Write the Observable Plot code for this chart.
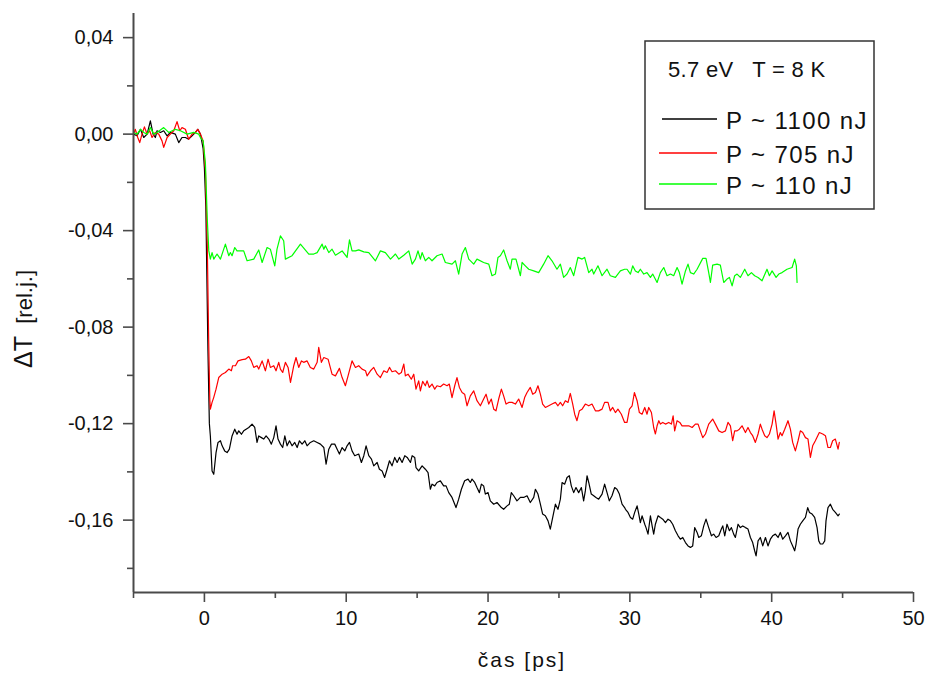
<!DOCTYPE html>
<html><head><meta charset="utf-8">
<script src="https://cdn.jsdelivr.net/npm/d3@7"></script>
<script src="https://cdn.jsdelivr.net/npm/@observablehq/plot@0.6"></script>
<style>body{margin:0;background:#fff;} svg{display:block}</style>
</head><body><div id="chart"></div>
<script>
const xMajor = [0, 10, 20, 30, 40, 50];
const xMinor = [-5, 5, 15, 25, 35, 45];
const yMajor = [-0.16, -0.12, -0.08, -0.04, 0, 0.04];
const yMinor = [-0.18, -0.14, -0.10, -0.06, -0.02, 0.02];
const seriesNames = ["P ~ 1100 nJ", "P ~ 705 nJ", "P ~ 110 nJ"];
const seriesColors = ["#000000", "#ff0000", "#00ff00"];
const legendTitle = "5.7 eV   T = 8 K";
const xLabel = "čas [ps]";
const yLabelMain = "ΔT";
const yLabelUnit = "  [rel.j.]";

// [time ps, ΔT]
const black = [
[-5,0],[-4.75,-0.0007],[-4.51,0.002],[-4.28,-0.0014],[-4.04,0],[-3.81,0.0055],[-3.62,0],[-3.46,-0.0014],[-3.34,0.0014],[-3.1,0.0007],[-2.87,0.0014],[-2.63,-0.0007],[-2.4,0.0007],[-2.05,0],[-1.81,-0.0035],[-1.58,-0.0014],[-1.34,-0.0014],[-1.11,-0.0021],[-0.87,-0.0007],[-0.63,0.0007],[-0.47,0.002],[-0.28,0],[-0.09,-0.006],[0,-0.014],[0.1,-0.03],[0.25,-0.09],[0.35,-0.12],
[0.42,-0.1251],[0.54,-0.1396],[0.66,-0.141],[0.82,-0.132],[0.96,-0.1278],[1.13,-0.1271],[1.25,-0.1292],[1.43,-0.1313],[1.6,-0.132],[1.76,-0.1306],[1.95,-0.1251],[2.14,-0.1223],[2.3,-0.1244],[2.42,-0.123],[2.61,-0.1244],[2.77,-0.123],[2.94,-0.1223],[3.13,-0.1216],[3.36,-0.1202],[3.55,-0.1216],[3.71,-0.1278],[3.83,-0.1251],[4.02,-0.1258],[4.18,-0.1264],[4.35,-0.1251],[4.54,-0.1264],[4.72,-0.1285],[4.89,-0.1258],[5.05,-0.1209],[5.19,-0.1264],[5.36,-0.1285],[5.52,-0.1299],[5.67,-0.1251],[5.83,-0.1292],[6,-0.1271],[6.18,-0.1292],[6.37,-0.1278],[6.54,-0.1299],[6.7,-0.1271],[6.89,-0.1285],[7.08,-0.1271],[7.24,-0.1292],[7.47,-0.1278],[7.71,-0.1271],[7.95,-0.1278],[8.18,-0.1285],[8.42,-0.1299],[8.58,-0.1368],[8.77,-0.1306],[8.96,-0.1285],[9.19,-0.1285],[9.36,-0.1306],[9.52,-0.1326],[9.71,-0.1299],[9.9,-0.1313],[10.06,-0.1292],[10.23,-0.1278],[10.41,-0.1313],[10.6,-0.1333],[10.88,-0.1326],[11.07,-0.1361],[11.24,-0.1333],[11.4,-0.1292],[11.59,-0.1333],[11.78,-0.1347],[11.94,-0.1375],[12.18,-0.1361],[12.34,-0.1389],[12.53,-0.1396],[12.71,-0.1423],[12.88,-0.1389],[13.05,-0.1354],[13.23,-0.1375],[13.42,-0.134],[13.59,-0.1361],[13.75,-0.134],[13.94,-0.1361],[14.13,-0.1333],[14.3,-0.134],[14.53,-0.1361],[14.65,-0.1333],[14.83,-0.134],
[14.92,-0.1382],[15.11,-0.1396],[15.35,-0.1375],[15.58,-0.1389],[15.77,-0.1403],[15.93,-0.1472],[16.05,-0.1451],[16.24,-0.1458],[16.4,-0.1444],[16.64,-0.1437],[16.87,-0.1458],[17.04,-0.1458],[17.23,-0.1486],[17.46,-0.1506],[17.65,-0.1534],[17.74,-0.1548],[17.93,-0.1513],[18.12,-0.1472],[18.35,-0.1437],[18.59,-0.143],[18.75,-0.1444],[18.87,-0.143],[19.06,-0.1444],[19.22,-0.1465],[19.39,-0.1486],[19.53,-0.1451],[19.69,-0.1458],[19.81,-0.1492],[20,-0.1486],[20.16,-0.152],[20.4,-0.1534],[20.63,-0.1527],[20.94,-0.1548],[21.1,-0.1555],[21.34,-0.1541],[21.5,-0.1534],[21.64,-0.1486],[21.81,-0.1499],[22.04,-0.152],[22.28,-0.1506],[22.51,-0.1506],[22.75,-0.1499],[22.98,-0.1527],[23.22,-0.1506],[23.34,-0.1472],[23.52,-0.1492],[23.69,-0.1534],[23.85,-0.1575],[24.04,-0.1582],[24.23,-0.1603],[24.39,-0.1637],[24.56,-0.1589],[24.75,-0.1534],[24.93,-0.1555],[25.1,-0.1513],[25.22,-0.1444],[25.4,-0.1451],[25.57,-0.1423],[25.73,-0.1416],[25.87,-0.1458],[26.04,-0.1486],[26.2,-0.1465],[26.39,-0.1486],[26.58,-0.1465],[26.74,-0.152],[26.86,-0.1479],[26.98,-0.1416],[27.1,-0.1444],[27.28,-0.1492],[27.45,-0.1499],[27.61,-0.1506],[27.8,-0.1513],[28.04,-0.1492],[28.22,-0.1451],[28.39,-0.1486],[28.55,-0.152],[28.74,-0.1499],[28.93,-0.1465],[29.09,-0.1472],[29.26,-0.1492],[29.45,-0.1534],[29.63,-0.1548],
[29.69,-0.1555],[29.87,-0.1568],[30.04,-0.1589],[30.2,-0.1596],[30.34,-0.1568],[30.51,-0.1541],[30.63,-0.1575],[30.74,-0.161],[30.86,-0.1582],[31.05,-0.1617],[31.14,-0.1631],[31.28,-0.1658],[31.45,-0.1582],[31.57,-0.1624],[31.68,-0.1658],[31.8,-0.1617],[31.99,-0.1582],[32.15,-0.1589],[32.32,-0.1596],[32.51,-0.161],[32.69,-0.1596],[32.86,-0.1603],[33.02,-0.1617],[33.21,-0.1644],[33.4,-0.1665],[33.56,-0.1679],[33.73,-0.1672],[33.92,-0.1693],[34.1,-0.1707],[34.27,-0.1713],[34.43,-0.1707],[34.57,-0.1631],[34.74,-0.1651],[34.86,-0.1672],[35.04,-0.1665],[35.21,-0.1624],[35.37,-0.1596],[35.56,-0.1631],[35.75,-0.1665],[35.91,-0.1658],[36.08,-0.1672],[36.27,-0.1665],[36.45,-0.1637],[36.55,-0.1624],[36.69,-0.1665],[36.85,-0.1617],[37.02,-0.1644],[37.16,-0.1631],[37.32,-0.1658],[37.44,-0.1672],[37.63,-0.1617],[37.79,-0.1631],[37.96,-0.1624],[38.15,-0.1631],[38.33,-0.1637],[38.5,-0.1672],[38.66,-0.1693],[38.8,-0.1727],[38.9,-0.1748],[39.04,-0.1686],[39.2,-0.1672],[39.37,-0.1707],[39.56,-0.1672],[39.74,-0.1707],[39.91,-0.1679],[40.07,-0.1665],[40.26,-0.1658],[40.45,-0.1672],[40.61,-0.1651],[40.78,-0.1679],[40.97,-0.1665],[41.15,-0.1651],[41.32,-0.1686],[41.48,-0.1707],[41.62,-0.1727],[41.72,-0.1699],[41.86,-0.1637],[42.02,-0.1617],[42.19,-0.1603],[42.38,-0.1589],[42.54,-0.1548],[42.66,-0.1568],[42.85,-0.1575],[43.03,-0.1589],[43.2,-0.1631],[43.32,-0.1686],[43.43,-0.1699],[43.6,-0.1699],[43.74,-0.1686],[43.83,-0.1603],[43.97,-0.1548],[44.14,-0.1534],[44.3,-0.1555],[44.49,-0.1568],[44.68,-0.1582],[44.77,-0.1575]
];

const red = [
[-5,0],[-4.87,0.002],[-4.7,-0.0014],[-4.56,-0.0035],[-4.4,0],[-4.23,0.003],[-4.04,0],[-3.86,0.0014],[-3.69,-0.0014],[-3.46,0.0007],[-3.22,0],[-2.99,-0.0028],[-2.87,-0.0055],[-2.63,-0.0014],[-2.4,0],[-2.16,0.0014],[-1.93,0.0052],[-1.74,0.0014],[-1.58,0.0027],[-1.34,0.002],[-1.11,-0.0021],[-0.87,0],[-0.63,0.0007],[-0.47,0.002],[-0.28,0],[-0.09,-0.0028],[0.07,-0.015],[0.2,-0.045],[0.3,-0.085],[0.38,-0.11],
[0.42,-0.114],[0.54,-0.1112],[0.66,-0.1091],[0.82,-0.1057],[1.01,-0.1009],[1.25,-0.0995],[1.48,-0.0988],[1.72,-0.0974],[1.9,-0.0981],[1.99,-0.096],[2.19,-0.096],[2.37,-0.094],[2.66,-0.0935],[2.89,-0.0933],[3.13,-0.0922],[3.31,-0.094],[3.48,-0.0967],[3.71,-0.096],[3.83,-0.0974],[4.07,-0.094],[4.3,-0.0981],[4.49,-0.0933],[4.65,-0.0967],[4.89,-0.096],[5.05,-0.0981],[5.24,-0.0946],[5.36,-0.0974],[5.52,-0.0988],[5.71,-0.0946],[5.9,-0.0967],[6.07,-0.1029],[6.3,-0.096],[6.46,-0.0926],[6.65,-0.0967],[6.84,-0.094],[7,-0.0946],[7.24,-0.094],[7.47,-0.0967],[7.71,-0.0974],[7.95,-0.0946],[8.06,-0.0884],[8.25,-0.0946],[8.42,-0.0926],[8.72,-0.0933],[9,-0.0995],[9.24,-0.1002],[9.52,-0.0971],[9.71,-0.1009],[9.94,-0.1043],[10.13,-0.1002],[10.41,-0.094],[10.65,-0.0967],[10.88,-0.096],[11.12,-0.0974],[11.36,-0.0981],[11.47,-0.1002],[11.71,-0.0981],[11.94,-0.0967],[12.18,-0.0995],[12.41,-0.1009],[12.65,-0.0981],[12.88,-0.0988],[13.05,-0.0967],[13.23,-0.0985],[13.47,-0.0981],[13.71,-0.0995],[13.89,-0.0988],[14.06,-0.0953],
[14.17,-0.1002],[14.36,-0.0995],[14.59,-0.1016],[14.76,-0.0995],[14.92,-0.1057],[15.11,-0.1023],[15.23,-0.1064],[15.39,-0.1025],[15.58,-0.1043],[15.7,-0.1023],[15.86,-0.105],[16.05,-0.1036],[16.24,-0.1057],[16.4,-0.1043],[16.64,-0.1047],[16.87,-0.1036],[17.11,-0.1043],[17.27,-0.1036],[17.46,-0.1092],[17.65,-0.1043],[17.81,-0.1009],[17.98,-0.105],[18.17,-0.1071],[18.35,-0.1078],[18.52,-0.1126],[18.75,-0.1085],[18.99,-0.1064],[19.22,-0.1105],[19.46,-0.1126],[19.69,-0.1098],[19.86,-0.1078],[20.05,-0.1119],[20.23,-0.1098],[20.4,-0.114],[20.56,-0.1147],[20.75,-0.1098],[20.94,-0.1057],[21.1,-0.1085],[21.27,-0.1119],[21.46,-0.1112],[21.69,-0.1112],[21.93,-0.1119],[22.16,-0.1098],[22.4,-0.1133],[22.58,-0.1092],[22.75,-0.1071],[22.98,-0.105],[23.15,-0.1078],[23.34,-0.1071],[23.52,-0.1043],[23.69,-0.1078],[23.85,-0.1119],[24.04,-0.1133],[24.28,-0.1126],[24.51,-0.1119],[24.75,-0.1112],[24.93,-0.1126],[25.1,-0.1112],[25.26,-0.1126],[25.45,-0.1105],[25.64,-0.1112],[25.8,-0.1075],[25.97,-0.1119],[26.11,-0.1161],[26.27,-0.1188],[26.44,-0.1147],[26.63,-0.114],[26.86,-0.1119],[27.1,-0.1126],[27.33,-0.1119],[27.57,-0.1147],[27.8,-0.1147],[28.04,-0.114],[28.22,-0.1112],[28.46,-0.1112],[28.62,-0.1147],[28.79,-0.1133],[28.98,-0.1154],[29.16,-0.114],[29.4,-0.1161],[29.63,-0.1195],
[29.8,-0.1195],[29.97,-0.114],[30.16,-0.1126],[30.32,-0.1071],[30.51,-0.1105],[30.67,-0.1154],[30.86,-0.1161],[31.05,-0.1133],[31.21,-0.1161],[31.33,-0.1133],[31.52,-0.1154],[31.68,-0.1216],[31.8,-0.1243],[31.92,-0.1209],[32.04,-0.1188],[32.15,-0.1202],[32.32,-0.1195],[32.51,-0.1202],[32.74,-0.1195],[32.93,-0.1202],[33.05,-0.1168],[33.16,-0.123],[33.33,-0.1188],[33.52,-0.1195],[33.68,-0.1209],[33.92,-0.1209],[34.15,-0.1209],[34.39,-0.1216],[34.62,-0.1202],[34.81,-0.1202],[34.97,-0.123],[35.14,-0.1258],[35.33,-0.1243],[35.56,-0.1202],[35.84,-0.1181],[36.03,-0.1202],[36.27,-0.123],[36.5,-0.1237],[36.74,-0.123],[36.92,-0.1195],[37.09,-0.1209],[37.25,-0.1271],[37.39,-0.123],[37.56,-0.123],[37.72,-0.1223],[37.91,-0.1209],[38.15,-0.1237],[38.33,-0.1216],[38.5,-0.1237],[38.66,-0.125],[38.85,-0.1278],[39.04,-0.1243],[39.2,-0.1202],[39.32,-0.1223],[39.51,-0.125],[39.67,-0.1258],[39.84,-0.1243],[40.03,-0.1202],[40.17,-0.1147],[40.31,-0.1202],[40.45,-0.1264],[40.61,-0.1237],[40.73,-0.125],[40.92,-0.1223],[41.15,-0.1188],[41.32,-0.1223],[41.48,-0.1278],[41.67,-0.1313],[41.86,-0.1271],[42.02,-0.123],[42.19,-0.1237],[42.38,-0.1258],[42.56,-0.1264],[42.73,-0.134],[42.89,-0.1292],[43.08,-0.1271],[43.36,-0.1237],[43.6,-0.1243],[43.79,-0.125],[43.97,-0.1299],[44.14,-0.1299],[44.3,-0.1271],[44.49,-0.1264],[44.68,-0.1306],[44.77,-0.1278]
];

const green = [
[-5,0.0007],[-4.75,0],[-4.51,0.002],[-4.28,0.0007],[-4.04,0],[-3.81,0.0027],[-3.57,0],[-3.34,0.0007],[-2.87,0.0027],[-2.52,0.0007],[-2.05,0.002],[-1.69,0.0014],[-1.22,0],[-0.75,0.0007],[-0.4,0],[-0.28,-0.0014],[-0.09,-0.0028],[0.07,-0.012],[0.2,-0.035],[0.31,-0.0484],
[0.42,-0.0518],[0.54,-0.0491],[0.66,-0.0518],[0.89,-0.0497],[1.13,-0.0518],[1.48,-0.0456],[1.72,-0.0504],[1.83,-0.0491],[1.95,-0.0504],[2.14,-0.047],[2.3,-0.0484],[2.77,-0.0484],[3.01,-0.0525],[3.48,-0.0518],[3.83,-0.048],[4.07,-0.0532],[4.42,-0.047],[4.65,-0.0477],[4.96,-0.0546],[5.12,-0.0477],[5.36,-0.0422],[5.59,-0.0442],[5.71,-0.0518],[6.18,-0.0504],[6.77,-0.0456],[7.36,-0.0497],[7.71,-0.0497],[7.95,-0.0491],[8.3,-0.0456],[8.42,-0.0477],[8.53,-0.0463],[8.77,-0.0491],[9,-0.0477],[9.24,-0.0502],[9.71,-0.0484],[9.94,-0.0502],[10.06,-0.0511],[10.23,-0.0438],[10.41,-0.0484],[10.65,-0.0484],[10.88,-0.048],[11.24,-0.0488],[11.59,-0.0491],[12.06,-0.0525],[12.41,-0.0484],[12.76,-0.0491],[13.12,-0.0518],[13.47,-0.0497],[13.71,-0.0518],[14.06,-0.0502],[14.41,-0.0484],[14.65,-0.0539],[14.88,-0.0518],
[15.06,-0.0484],[15.23,-0.0518],[15.35,-0.0491],[15.58,-0.0525],[15.82,-0.0511],[16.05,-0.0525],[16.4,-0.0504],[16.76,-0.0497],[16.99,-0.0532],[17.46,-0.0539],[17.7,-0.0525],[17.93,-0.058],[18.17,-0.0497],[18.4,-0.047],[18.64,-0.0518],[18.99,-0.0539],[19.22,-0.0518],[19.69,-0.0532],[20.05,-0.0539],[20.28,-0.0587],[20.52,-0.058],[20.7,-0.0511],[20.87,-0.0504],[21.1,-0.048],[21.34,-0.0525],[21.57,-0.056],[21.69,-0.0518],[21.97,-0.0518],[22.28,-0.0587],[22.4,-0.0532],[22.63,-0.0546],[22.87,-0.056],[23.22,-0.0567],[23.57,-0.0574],[23.92,-0.0539],[24.23,-0.0504],[24.51,-0.0525],[24.86,-0.056],[25.1,-0.0539],[25.33,-0.0594],[25.57,-0.058],[25.8,-0.0553],[26.04,-0.0587],[26.34,-0.0511],[26.63,-0.0518],[26.81,-0.0511],[27.1,-0.0574],[27.33,-0.056],[27.45,-0.058],[27.75,-0.0546],[28.04,-0.0587],[28.39,-0.056],[28.62,-0.0587],[28.98,-0.0594],[29.33,-0.0567],[29.63,-0.056],
[29.8,-0.056],[30.04,-0.058],[30.2,-0.0546],[30.39,-0.0567],[30.58,-0.0574],[30.74,-0.056],[30.98,-0.058],[31.21,-0.0574],[31.45,-0.0594],[31.61,-0.058],[31.92,-0.0615],[32.15,-0.0574],[32.39,-0.0553],[32.62,-0.0587],[32.86,-0.058],[33.09,-0.0587],[33.33,-0.0553],[33.49,-0.0574],[33.68,-0.0622],[33.92,-0.0567],[34.1,-0.0539],[34.27,-0.0574],[34.5,-0.058],[34.74,-0.056],[35.14,-0.0515],[35.37,-0.0515],[35.56,-0.0574],[35.68,-0.0615],[35.84,-0.0543],[36.15,-0.0539],[36.38,-0.0543],[36.62,-0.0615],[36.85,-0.0601],[37.02,-0.0594],[37.21,-0.0629],[37.39,-0.0587],[37.56,-0.058],[37.79,-0.0594],[38.1,-0.056],[38.33,-0.0587],[38.57,-0.0574],[38.8,-0.0587],[39.04,-0.0594],[39.32,-0.0608],[39.67,-0.056],[39.84,-0.0587],[40.03,-0.0567],[40.31,-0.0594],[40.5,-0.058],[40.73,-0.0574],[41.08,-0.056],[41.44,-0.0553],[41.62,-0.0518],[41.74,-0.0546],[41.79,-0.0615]
];

const series = [black, red, green];
const fmt = d => d.toFixed(2).replace(".", ",");
const axisColor = "#4a4a4a";
const textColor = "#111";
const font = "'Liberation Sans', Arial, sans-serif";

const plot = Plot.plot({
  width: 928, height: 674,
  marginLeft: 133, marginRight: 15, marginTop: 13, marginBottom: 82,
  style: {fontFamily: font, fontSize: "20px", background: "#fff", color: textColor},
  x: {domain: [-5, 50], axis: null},
  y: {domain: [-0.19, 0.05], axis: null},
  marks: [
    ...series.map((s, i) => Plot.line(s, {x: d => d[0], y: d => d[1], stroke: seriesColors[i], strokeWidth: 1.2})),
    Plot.ruleX([-5], {stroke: axisColor, strokeWidth: 2}),
    Plot.ruleY([-0.19], {stroke: axisColor, strokeWidth: 2}),
    Plot.axisY(yMajor, {tickSize: 10, tickPadding: 10, tickFormat: fmt, stroke: axisColor, strokeWidth: 1.6, fill: textColor, fontSize: 20, label: null}),
    Plot.axisY(yMinor, {tickSize: 6, tickFormat: () => "", stroke: axisColor, strokeWidth: 1.6, label: null}),
    Plot.axisX(xMajor, {tickSize: 10, tickPadding: 8, stroke: axisColor, strokeWidth: 1.6, fill: textColor, fontSize: 20, label: null}),
    Plot.axisX(xMinor, {tickSize: 6, tickFormat: () => "", stroke: axisColor, strokeWidth: 1.6, label: null})
  ]
});
document.getElementById("chart").appendChild(plot);

const svg = d3.select(plot);
const yl = svg.append("text")
  .attr("transform", "translate(32,319) rotate(-90)")
  .attr("text-anchor", "middle")
  .attr("xml:space", "preserve")
  .style("white-space", "pre")
  .style("font-family", font).attr("fill", textColor);
yl.append("tspan").style("font-size", "25px").text(yLabelMain);
yl.append("tspan").style("font-size", "22px").text(yLabelUnit);
svg.append("text")
  .attr("x", 522).attr("y", 667)
  .attr("text-anchor", "middle")
  .style("font-size", "21px").style("letter-spacing", "2px").style("font-family", font).attr("fill", textColor)
  .text(xLabel);

const lg = svg.append("g").attr("text-anchor", "start");
lg.append("rect").attr("x", 645).attr("y", 41).attr("width", 229).attr("height", 168)
  .attr("fill", "#fff").attr("stroke", "#333").attr("stroke-width", 1.5);
lg.append("text").attr("x", 668).attr("y", 77).attr("text-anchor", "start")
  .attr("xml:space", "preserve").style("white-space", "pre")
  .style("font-size", "22px").style("letter-spacing", "0.3px").style("font-family", font).attr("fill", textColor)
  .text(legendTitle);
const rowY = [119, 153, 184];
seriesNames.forEach((name, i) => {
  lg.append("line").attr("x1", i === 0 ? 662 : 659).attr("x2", 717)
    .attr("y1", rowY[i]).attr("y2", rowY[i])
    .attr("stroke", seriesColors[i]).attr("stroke-width", 1.3);
  lg.append("text").attr("x", 726).attr("y", rowY[i] + 10).attr("text-anchor", "start")
    .style("font-size", "24px").style("letter-spacing", "1.4px").style("font-family", font).attr("fill", textColor)
    .text(name);
});
</script>
</body></html>
